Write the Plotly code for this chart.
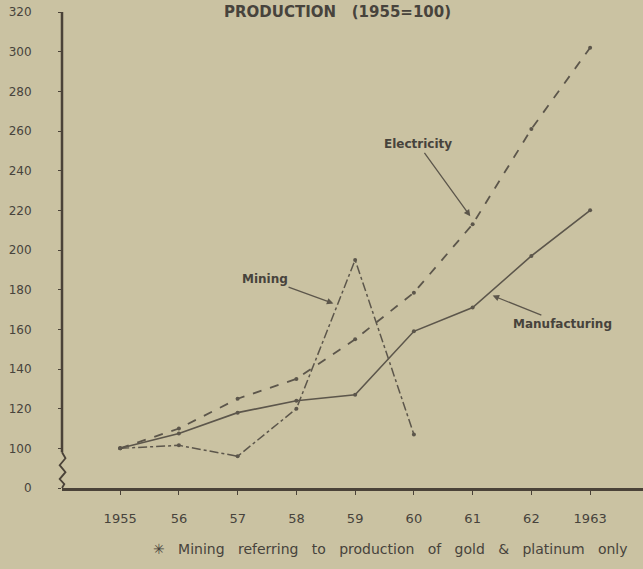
import plotly.graph_objects as go

years = [1955, 1956, 1957, 1958, 1959, 1960, 1961, 1962, 1963]
year_labels = ["1955", "56", "57", "58", "59", "60", "61", "62", "1963"]
manufacturing = [100, 107.5, 118, 124, 127, 159, 171, 197, 220]
electricity = [100, 110, 125, 135, 155, 178.5, 213, 261, 302]
mining_years = [1955, 1956, 1957, 1958, 1959, 1960]
mining = [100, 101.5, 96, 120, 195, 107]
y_tickvals = [80, 100, 120, 140, 160, 180, 200, 220, 240, 260, 280, 300, 320]
y_ticktext = ["0", "100", "120", "140", "160", "180", "200", "220", "240", "260", "280", "300", "320"]

BG = "#cac2a2"
INK = "#47433c"
LINE = "#5c564b"
AXIS = "#4a4238"
FONT = "DejaVu Sans"
NB = "\u00a0"

fig = go.Figure()
fig.add_trace(go.Scatter(x=years, y=manufacturing, mode="lines+markers",
                         line=dict(color=LINE, width=1.6, dash="solid"),
                         marker=dict(size=4, color=LINE), name="Manufacturing"))
fig.add_trace(go.Scatter(x=years, y=electricity, mode="lines+markers",
                         line=dict(color=LINE, width=1.8, dash="dash"),
                         marker=dict(size=4, color=LINE), name="Electricity"))
fig.add_trace(go.Scatter(x=mining_years, y=mining, mode="lines+markers",
                         line=dict(color=LINE, width=1.5, dash="dashdot"),
                         marker=dict(size=4, color=LINE), name="Mining"))

fig.update_layout(
    width=643, height=569,
    margin=dict(l=62, r=0, t=12, b=81),
    paper_bgcolor=BG, plot_bgcolor=BG,
    showlegend=False,
    font=dict(family=FONT, color=INK, size=12),
    xaxis=dict(range=[1954.01, 1963.9], tickvals=years, ticktext=year_labels,
               showgrid=False, zeroline=False, showline=True, linecolor=AXIS,
               linewidth=2.5, ticks="outside", ticklen=4, tickcolor=AXIS,
               ticklabelstandoff=13, tickfont=dict(size=13, color=INK)),
    yaxis=dict(range=[80, 320], tickvals=y_tickvals, ticktext=y_ticktext,
               showgrid=False, zeroline=False, showline=False,
               ticks="outside", ticklen=3, tickcolor=AXIS,
               ticklabelstandoff=24, tickfont=dict(size=12, color=INK)),
)

# y axis line with break
fig.add_shape(type="line", xref="paper", yref="y", x0=0, x1=0, y0=98, y1=320,
              line=dict(color=AXIS, width=2.5))
fig.add_shape(type="path", xref="paper", yref="y",
              path="M 0,98 L 0.006,95 L -0.004,91.5 L 0.006,88 L -0.004,84.5 L 0.004,82 L 0,80",
              line=dict(color=AXIS, width=1.8))

# title
fig.add_annotation(text="<b>PRODUCTION" + NB * 3 + "(1955=100)</b>", xref="paper", yref="paper",
                   x=(337 - 62) / 581, y=1.0, yanchor="middle", yshift=0, showarrow=False,
                   font=dict(size=15, color=INK, family=FONT))

# labels with arrows
ann_font = dict(size=12, color=INK, family=FONT)
fig.add_annotation(text="<b>Mining</b>", x=1958.63, y=173, ax=-68, ay=-25,
                   showarrow=True, arrowhead=2, arrowsize=1, arrowwidth=1.3,
                   arrowcolor=LINE, font=ann_font)
fig.add_annotation(text="<b>Electricity</b>", x=1960.96, y=217, ax=-52, ay=-72,
                   showarrow=True, arrowhead=2, arrowsize=1, arrowwidth=1.3,
                   arrowcolor=LINE, font=ann_font)
fig.add_annotation(text="<b>Manufacturing</b>", x=1961.34, y=177, ax=70, ay=28,
                   showarrow=True, arrowhead=2, arrowsize=1, arrowwidth=1.3,
                   arrowcolor=LINE, font=ann_font)

# footnote
foot_words = ["<b>✳</b>", "Mining", "referring", "to", "production", "of", "gold", "&amp;", "platinum", "only"]
fig.add_annotation(text=(NB * 3).join(foot_words),
                   xref="paper", yref="paper", x=(390 - 62) / 581, y=0,
                   yanchor="middle", yshift=-61,
                   showarrow=False, font=dict(size=14, color=INK, family=FONT))

fig.write_html("out.html", config={"displayModeBar": False},
               post_script="document.body.style.margin='0';")
